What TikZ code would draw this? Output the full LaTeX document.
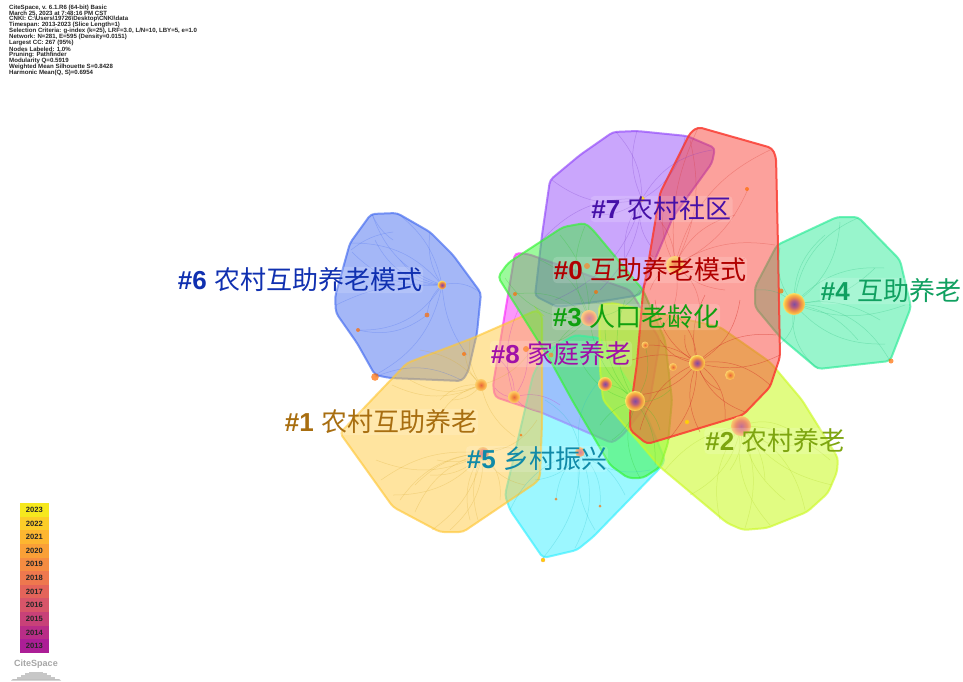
\documentclass[tikz,border=0pt]{standalone}
\usepackage{fontspec}
\setmainfont{Liberation Sans}
\newfontfamily\cjk{Noto Sans CJK SC}
\usetikzlibrary{shapes.geometric}
\pgfdeclareradialshading{ballA}{\pgfpoint{0bp}{0bp}}{rgb(0bp)=(0.50,0.30,0.62);rgb(8bp)=(0.72,0.36,0.50);rgb(15bp)=(0.93,0.55,0.28);rgb(22bp)=(0.98,0.76,0.28);rgb(25bp)=(0.98,0.90,0.42);rgb(50bp)=(0.98,0.90,0.42)}
\pgfdeclareradialshading{ballB}{\pgfpoint{0bp}{0bp}}{rgb(0bp)=(0.90,0.40,0.25);rgb(12bp)=(0.97,0.62,0.25);rgb(25bp)=(0.99,0.82,0.42);rgb(50bp)=(0.99,0.82,0.42)}
\pgfdeclareradialshading{ballC}{\pgfpoint{0bp}{0bp}}{rgb(0bp)=(0.76,0.44,0.58);rgb(14bp)=(0.92,0.54,0.42);rgb(25bp)=(0.98,0.78,0.42);rgb(50bp)=(0.98,0.78,0.42)}
\definecolor{cRed}{RGB}{250,60,50}
\definecolor{cGold}{RGB}{255,200,55}
\definecolor{cLime}{RGB}{205,250,40}
\definecolor{cGreen}{RGB}{50,245,50}
\definecolor{cTeal}{RGB}{40,235,150}
\definecolor{cCyan}{RGB}{50,240,255}
\definecolor{cBlue}{RGB}{65,105,240}
\definecolor{cPurple}{RGB}{145,70,250}
\definecolor{cMag}{RGB}{250,40,250}
\tikzset{
  hull/.style={rounded corners=4pt,line width=2pt,draw=#1,fill=#1,fill opacity=.48,draw opacity=.65},
  arcl/.style={draw=#1,line width=.5pt,opacity=.3},
  ball/.style={circle,minimum size=#1*2pt,inner sep=0pt,outer sep=0pt},
  hubA/.style={ball=#1,shading=ballA},
  hubB/.style={ball=#1,shading=ballB},
  hubC/.style={ball=#1,shading=ballC},
  dot/.style={circle,minimum size=#1*2pt,inner sep=0pt,fill=orange!85!red,fill opacity=.7},
  ydot/.style={circle,minimum size=#1*2pt,inner sep=0pt,fill=yellow!70!orange,draw=orange!70,line width=.3pt},
  lab/.style={anchor=center,inner sep=1pt,rounded corners=4pt,fill=white,fill opacity=.16,text opacity=1,font=\fontsize{26}{28}\selectfont},
  meta/.style={anchor=west,inner sep=0pt,font=\fontsize{6.1}{6.2}\selectfont\bfseries,text=black!85},
  yr/.style={anchor=center,inner sep=0pt,font=\fontsize{7.6}{8}\selectfont\bfseries,text=black!85},
}
\newcommand{\labtxt}[2]{\textbf{\##1} {\cjk #2}}
\begin{document}
\begin{tikzpicture}[x=1pt,y=-1pt]
\useasboundingbox (0,0) rectangle (963,681);
\fill[white] (0,0) rectangle (963,681);
% hulls
\draw[hull=cBlue] (371,214)--(397,213)--(430,232)--(453,255)--(481,293)--(477,333)--(468,372)--(462,381)--(390,378)--(375,375)--(357,343)--(336,313)--(335,297)--(350,243)--cycle;
\draw[hull=cMag] (515,253)--(528,254)--(630,290)--(660,340)--(650,400)--(623,435)--(612,443)--(540,412)--(495,397)--(493,385)--cycle;
\draw[hull=cCyan] (533,375)--(545,352)--(575,335)--(600,338)--(640,400)--(665,460)--(660,468)--(593,537)--(577,550)--(543,558)--(510,510)--(505,495)--cycle;
\draw[hull=cGold] (340,433)--(407,363)--(473,338)--(537,310)--(542,315)--(542,423)--(540,477)--(537,482)--(463,532)--(440,532)--(393,507)--cycle;
\draw[hull=cPurple] (613,132)--(637,131)--(687,136)--(715,148)--(712,163)--(673,217)--(640,295)--(610,300)--(557,307)--(535,296)--(542,235)--(550,180)--(580,155)--cycle;
\draw[hull=cGreen] (498,277)--(508,263)--(563,227)--(585,223)--(593,230)--(643,290)--(665,340)--(672,400)--(668,443)--(660,467)--(643,478)--(628,478)--(610,465)--(572,400)--(550,360)--cycle;
\draw[hull=cLime,fill opacity=.58] (599,305)--(613,303)--(720,327)--(770,362)--(802,400)--(838,458)--(837,472)--(828,493)--(807,512)--(767,528)--(743,530)--(727,523)--(660,467)--(603,400)--(600,370)--cycle;
\draw[hull=cTeal] (837,217)--(858,217)--(900,260)--(911,307)--(897,343)--(890,361)--(818,369)--(780,337)--(755,307)--(755,287)--(777,245)--cycle;
\draw[hull=cRed,draw opacity=.85] (698,127)--(772,148)--(776,157)--(778,247)--(780,357)--(770,387)--(743,415)--(647,444)--(630,430)--(630,413)--(637,363)--(643,292)--(650,253)--(660,193)--(690,133)--cycle;
% named hubs
\coordinate (h4) at (794,304);
\coordinate (h6) at (442,285);
\coordinate (h0a) at (697,363);
\coordinate (h0b) at (675,265);
\coordinate (h7) at (642,199);
\coordinate (h3) at (635,401);
\coordinate (h5) at (580,452);
\coordinate (h1a) at (483,453);
\coordinate (h1b) at (481,385);
\coordinate (h2) at (741,426);
\coordinate (h8) at (514,397);
% arcs of each cluster
\foreach \x/\y/\b in {825/235/25,840/222/-25,858/218/30,875/268/-20,884/268/25,905/305/-20,880/320/20,885/344/-25,890/361/30,858/340/20,818/369/-30,779/345/30,756/290/-25,780/248/25}
  \draw[arcl=cTeal!80!black] (h4) to[bend left=\b] (\x,\y);
\foreach \x/\y/\b in {372/214/25,397/213/-20,430/232/20,350/243/-25,375/240/30,352/252/25,481/293/25,336/305/-15,357/330/30,427/315/-20,375/375/25,467/355/-15,400/260/20}
  \draw[arcl=cBlue] (h6) to[bend left=\b] (\x,\y);
\draw[arcl=cBlue] (358,330) to[bend right=25] (427,315);
\draw[arcl=cBlue] (372,214) to[bend right=15] (393,240);
\draw[arcl=cBlue] (351,250) to[bend left=15] (393,232);
\draw[arcl=cBlue] (375,377) to[bend left=25] (461,380);
\foreach \x/\y/\b in {655/300/25,670/310/-25,705/295/20,740/300/-25,776/335/25,780/355/-20,770/385/25,745/412/-25,725/420/30,700/432/-25,668/440/20,640/430/-25,632/395/25,632/360/-20,660/340/25,645/345/-20,685/335/30,720/390/-25}
  \draw[arcl=cRed!85!black,opacity=.5] (h0a) to[bend left=\b] (\x,\y);
\foreach \x/\y/\b in {698/128/15,690/140/-20,665/200/20,655/215/-20,735/215/25,748/189/-20,770/150/25,745/258/-25,775/245/20,725/290/-20,700/310/25,650/254/20,650/290/-25,660/330/25}
  \draw[arcl=cRed!85!black] (h0b) to[bend left=\b] (\x,\y);
\foreach \x/\y/\b in {616/132/-20,637/131/20,712/150/25,685/137/-25,552/180/25,542/240/-25,590/215/20,650/245/-25,600/290/20,625/262/-20,555/300/25}
  \draw[arcl=cPurple!80!black] (h7) to[bend left=\b] (\x,\y);
\foreach \x/\y/\b in {589/318/20,605/384/-20,580/360/25,645/345/-25,625/300/25,655/465/20,640/478/-25,612/440/25,600/425/-20,660/430/25,670/390/-25,605/330/20}
  \draw[arcl=cGreen!80!black] (h3) to[bend left=\b] (\x,\y);
\foreach \x/\y/\b in {515/294/-25,526/349/20,551/355/-20,596/292/25,540/260/-25,505/278/30,560/235/-20,585/226/25,640/290/-25}
  \draw[arcl=cGreen!80!black] (589,318) to[bend left=\b] (\x,\y);
\foreach \x/\y/\b in {543/558/20,556/499/-20,600/506/25,510/510/-25,625/495/20,650/470/-25,535/480/25,595/530/-20,575/548/25,545/400/-25,600/380/25}
  \draw[arcl=cCyan!80!black] (h5) to[bend left=\b] (\x,\y);
\foreach \x/\y/\b in {376/460/25,381/480/-20,393/495/25,400/500/-25,432/530/20,415/512/-25,450/530/25,478/520/-20,500/500/25,525/485/-25,520/450/20,537/420/-25,430/475/25,415/485/-20,437/460/20,470/520/-25}
  \draw[arcl=cGold!85!black] (h1a) to[bend left=\b] (\x,\y);
\foreach \x/\y/\b in {392/385/25,420/350/-20,465/354/20,440/400/-25,410/380/25,515/437/-20,452/400/25,435/425/-25,470/340/20,535/345/-20}
  \draw[arcl=cGold!85!black] (h1b) to[bend left=\b] (\x,\y);
\foreach \x/\y/\b in {830/460/20,832/485/-20,805/510/25,770/525/-25,745/528/20,720/520/-25,690/495/25,665/470/-20,790/430/25,800/445/-25,765/480/20,785/500/-20,730/470/20}
  \draw[arcl=cLime!85!black] (h2) to[bend left=\b] (\x,\y);
\foreach \x/\y/\b in {495/388/25,500/360/-25,518/310/20,527/349/-20,560/405/25,540/412/-20}
  \draw[arcl=cMag!80!black] (h8) to[bend left=\b] (\x,\y);
% nodes
\node[hubA=11] (n1) at (h4) {};
\node[hubA=10] (n2) at (h3) {};
\node[hubA=8] (n3) at (h0a) {};
\node[hubC=10] (n4) at (h2) {};
\node[hubB=9] (n5) at (h0b) {};
\node[hubC=8] (n6) at (589,318) {};
\node[hubA=7] (n7) at (605,384) {};
\node[hubB=6] (n8) at (h8) {};
\node[hubB=6] (n9) at (h1b) {};
\node[hubA=4.5] (n10) at (h6) {};
\node[hubB=5] (n11) at (730,375) {};
\node[hubB=4] (n12) at (673,367) {};
\node[hubC=6] (n13) at (h1a) {};
\node[hubC=5] (n14) at (h5) {};
\node[hubB=3.5] (n15) at (645,345) {};
\node[ydot=2.2] (n16) at (687,422) {};
\node[dot=3.8] (n17) at (375,377) {};
\node[dot=2] (n18) at (358,330) {};
\node[dot=2.4] (n19) at (427,315) {};
\node[dot=2] (n20) at (464,354) {};
\node[dot=2] (n21) at (515,294) {};
\node[dot=3] (n22) at (587,266) {};
\node[dot=2] (n23) at (596,292) {};
\node[dot=3] (n24) at (526,349) {};
\node[dot=2.4] (n25) at (551,355) {};
\node[dot=2.5] (n26) at (891,361) {};
\node[dot=2.5] (n27) at (781,291) {};
\node[dot=2] (n28) at (747,189) {};
\node[ydot=2.5] (n29) at (h7) {};
\node[ydot=2] (n30) at (543,560) {};
\node[dot=1.5] (n31) at (556,499) {};
\node[dot=1.5] (n32) at (600,506) {};
\node[dot=1.5] (n33) at (521,435) {};
% labels
\node[lab,text={rgb,255:red,176;green,0;blue,0}] (L0) at (650,270) {\labtxt{0}{互助养老模式}};
\node[lab,text={rgb,255:red,168;green,110;blue,16}] (L1) at (381,422) {\labtxt{1}{农村互助养老}};
\node[lab,text={rgb,255:red,125;green,165;blue,15}] (L2) at (775.5,441) {\labtxt{2}{农村养老}};
\node[lab,text={rgb,255:red,16;green,160;blue,16}] (L3) at (636,317) {\labtxt{3}{人口老龄化}};
\node[lab,text={rgb,255:red,16;green,160;blue,96}] (L4) at (891,291) {\labtxt{4}{互助养老}};
\node[lab,text={rgb,255:red,16;green,138;blue,168}] (L5) at (537,459) {\labtxt{5}{乡村振兴}};
\node[lab,text={rgb,255:red,16;green,48;blue,176}] (L6) at (300,280) {\labtxt{6}{农村互助养老模式}};
\node[lab,text={rgb,255:red,70;green,16;blue,168}] (L7) at (661.5,209) {\labtxt{7}{农村社区}};
\node[lab,text={rgb,255:red,160;green,16;blue,168}] (L8) at (561,354) {\labtxt{8}{家庭养老}};
% summary
\node[meta] (m1) at (9,7.5) {CiteSpace, v. 6.1.R6 (64-bit) Basic};
\node[meta] (m2) at (9,13.44) {March 25, 2023 at 7:48:16 PM CST};
\node[meta] (m3) at (9,19.38) {CNKI: C:\textbackslash Users\textbackslash 19726\textbackslash Desktop\textbackslash CNKI\textbackslash data};
\node[meta] (m4) at (9,25.32) {Timespan: 2013-2023 (Slice Length=1)};
\node[meta] (m5) at (9,31.26) {Selection Criteria: g-index (k=25), LRF=3.0, L/N=10, LBY=5, e=1.0};
\node[meta] (m6) at (9,37.2) {Network: N=281, E=595 (Density=0.0151)};
\node[meta] (m7) at (9,43.14) {Largest CC: 267 (95\%)};
\node[meta] (m8) at (9,49.08) {Nodes Labeled: 1.0\%};
\node[meta] (m9) at (9,55.02) {Pruning: Pathfinder};
\node[meta] (m10) at (9,60.96) {Modularity Q=0.5919};
\node[meta] (m11) at (9,66.9) {Weighted Mean Silhouette S=0.8428};
\node[meta] (m12) at (9,72.84) {Harmonic Mean(Q, S)=0.6954};
% legend
\foreach \i/\yr/\r/\g/\bl in {0/2023/246/232/30,1/2022/252/205/40,2/2021/253/182/48,3/2020/250/160/55,4/2019/245/140/65,5/2018/238/120/78,6/2017/228/100/90,7/2016/215/85/105,8/2015/200/65/120,9/2014/185/45/135,10/2013/172/30/150}{
  \definecolor{rowc}{RGB}{\r,\g,\bl}
  \fill[rowc] (19.5,503+\i*13.64) rectangle (49,503+\i*13.64+13.7);
  \node[yr] (y\yr) at (34.3,509.8+\i*13.64) {\yr};
}
% logo
\node[inner sep=0pt,text=black!35,font=\fontsize{9}{9}\selectfont\bfseries] (logo) at (36,664) {CiteSpace};
\fill[black!25] (13,679) -- (59,679) -- (61,680.5) -- (11,680.5) -- cycle;
\foreach \x/\w/\h in {17/38/1.5,21/30/3.5,25/22/5.5,29/14/7}
  \fill[black!22] (\x,678.5-\h) rectangle (\x+\w,678.5);
\end{tikzpicture}
\end{document}
